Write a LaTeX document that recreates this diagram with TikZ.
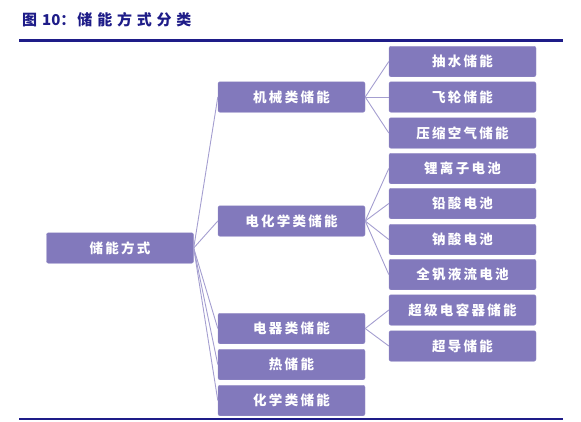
\documentclass[tikz,border=0pt]{standalone}
\usepackage{fontspec}
\newfontfamily\cjk[LetterSpace=17]{Noto Sans CJK SC}
\newfontfamily\cjktitle{Noto Sans CJK SC}
\newfontfamily\cjkwide[LetterSpace=32]{Noto Sans CJK SC}
\usetikzlibrary{positioning}
\definecolor{boxfill}{HTML}{8279BC}
\definecolor{linkcol}{HTML}{A49ED0}
\definecolor{navy}{HTML}{1E1C88}
\tikzset{
  box/.style={fill=boxfill,draw=boxfill!85!white,rounded corners=2pt,align=center,text=white,
    font=\cjk\bfseries\fontsize{13.5}{15}\selectfont,minimum width=147pt,minimum height=30.5pt,inner sep=0pt},
  link/.style={draw=linkcol,line width=0.9pt},
  rule/.style={draw=navy,line width=3pt},
}
\begin{document}
\begin{tikzpicture}[x=1pt,y=-1pt]
\useasboundingbox (0,0) rectangle (581,421);
\node[anchor=west,text=navy,font=\cjktitle\bfseries\fontsize{15}{17}\selectfont,inner sep=0pt] (title) at (22,20) {图\hspace{5pt}10：\hspace{2pt}{\cjkwide 储能方式分类}};
\draw[rule] (19,40)--(563,40);
\draw[rule,line width=2pt] (19,419)--(563,419);
% root and first level
\node[box] (root) at (120,248) {储能方式};
\foreach \n/\t/\y in {mech/机械类储能/97,elec/电化学类储能/221,eqp/电器类储能/328.5,heat/热储能/364.5,chem/化学类储能/400.5}
  \node[box] (\n) at (291.5,\y) {\t};
% second level
\foreach \n/\t/\y in {pump/抽水储能/61.5,fly/飞轮储能/97,caes/压缩空气储能/133,li/锂离子电池/168.5,lead/铅酸电池/203.5,na/钠酸电池/239.5,vrfb/全钒液流电池/274.5,scap/超级电容器储能/310,smes/超导储能/346}
  \node[box] (\n) at (462.5,\y) {\t};
\foreach \n in {mech,elec,eqp,heat,chem} \draw[link] (root.east)--(\n.west);
\foreach \n in {pump,fly,caes} \draw[link] (mech.east)--(\n.west);
\foreach \n in {li,lead,na,vrfb} \draw[link] (elec.east)--(\n.west);
\foreach \n in {scap,smes} \draw[link] (eqp.east)--(\n.west);
\end{tikzpicture}
\end{document}
